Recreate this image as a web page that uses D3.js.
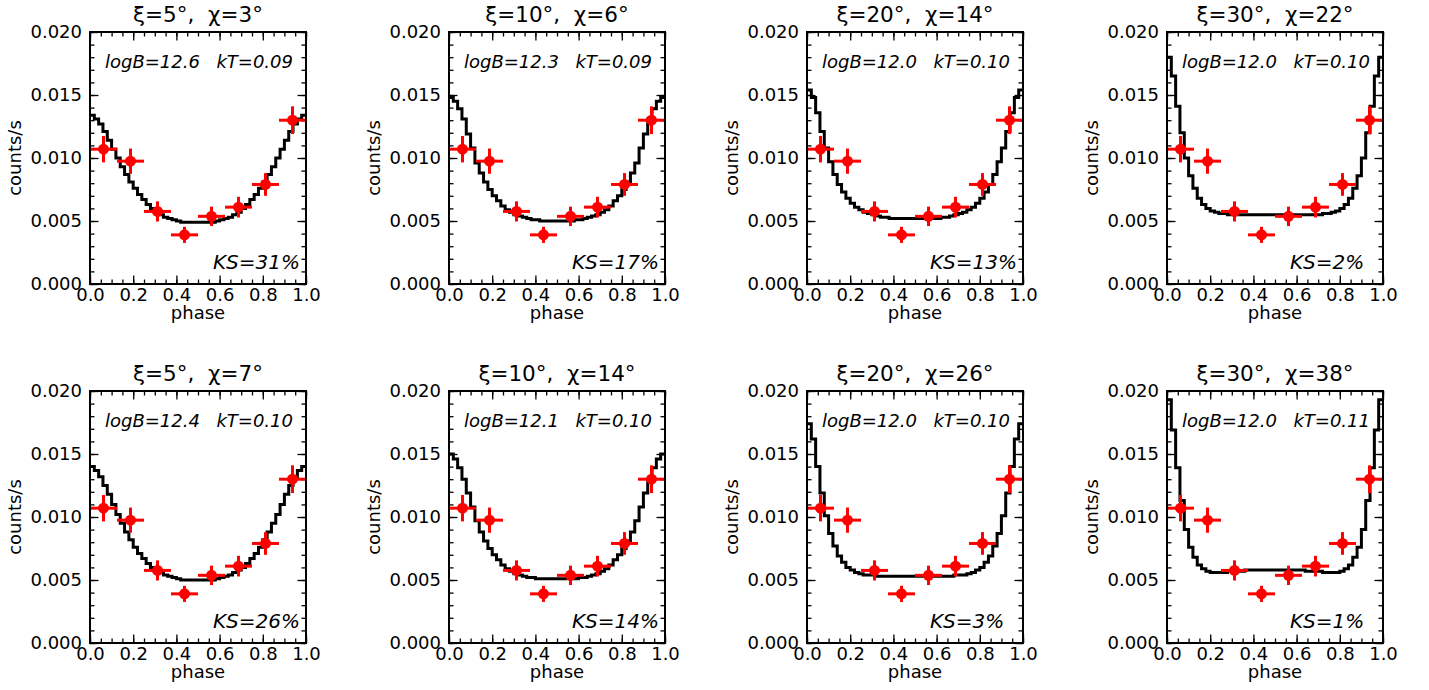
<!DOCTYPE html>
<html>
<head>
<meta charset="utf-8">
<script src="https://cdn.jsdelivr.net/npm/d3@7"></script>
<style>
  body { margin: 0; background: #fff; }
  text { white-space: pre; }
</style>
</head>
<body>
<script>
// panel labels
var titles = ["ξ=5°,  χ=3°", "ξ=10°,  χ=6°", "ξ=20°,  χ=14°", "ξ=30°,  χ=22°",
              "ξ=5°,  χ=7°", "ξ=10°,  χ=14°", "ξ=20°,  χ=26°", "ξ=30°,  χ=38°"];
var logB = ["12.6", "12.3", "12.0", "12.0", "12.4", "12.1", "12.0", "12.0"];
var kT = ["0.09", "0.09", "0.10", "0.10", "0.10", "0.10", "0.10", "0.11"];
var ks = ["31%", "17%", "13%", "2%", "26%", "14%", "3%", "1%"];

// observed light curve (same in every panel)
var obsPhase = [0.0625, 0.1875, 0.3125, 0.4375, 0.5625, 0.6875, 0.8125, 0.9375];
var obsRate = [0.0107, 0.00975, 0.00576, 0.0039, 0.00537, 0.0061, 0.0079, 0.0130];
var obsErr = [0.00105, 0.001, 0.0008, 0.00064, 0.00077, 0.00082, 0.0009, 0.0011];
var obsHalfWidth = 0.0625;

// model curves, 50 phase bins each
var model1 = [0.0134,0.0131,0.0127,0.0121,0.0114,0.0107,0.0100,0.0093,0.0087,0.0081,0.0076,0.0071,0.0067,0.0063,0.0060,0.0057,0.0055,0.0053,0.0052,0.0051,0.0050,0.0049,0.0049,0.0049,0.0049,
              0.0049,0.0049,0.0049,0.0049,0.0050,0.0051,0.0052,0.0053,0.0055,0.0057,0.0060,0.0063,0.0067,0.0071,0.0076,0.0081,0.0087,0.0093,0.0100,0.0107,0.0114,0.0121,0.0127,0.0131,0.0134];
var model2 = [0.0148,0.0145,0.0139,0.0131,0.0119,0.0108,0.0096,0.0088,0.0081,0.0075,0.0070,0.0066,0.0062,0.0059,0.0057,0.0055,0.0054,0.0053,0.0052,0.0051,0.0051,0.0050,0.0050,0.0050,0.0050,
              0.0050,0.0050,0.0050,0.0050,0.0051,0.0051,0.0052,0.0053,0.0054,0.0055,0.0057,0.0059,0.0062,0.0066,0.0070,0.0075,0.0081,0.0088,0.0096,0.0108,0.0119,0.0131,0.0139,0.0145,0.0148];
var model3 = [0.0154,0.0148,0.0136,0.0121,0.0108,0.0097,0.0087,0.0079,0.0073,0.0068,0.0064,0.0061,0.0059,0.0057,0.0056,0.0055,0.0054,0.0053,0.0053,0.0052,0.0052,0.0052,0.0052,0.0052,0.0052,
              0.0052,0.0052,0.0052,0.0052,0.0052,0.0052,0.0053,0.0053,0.0054,0.0055,0.0056,0.0057,0.0059,0.0061,0.0064,0.0068,0.0073,0.0079,0.0087,0.0097,0.0108,0.0121,0.0136,0.0148,0.0154];
var model4 = [0.0180,0.0165,0.0141,0.0120,0.0100,0.0086,0.0076,0.0068,0.0063,0.0060,0.0058,0.0057,0.0056,0.0056,0.0055,0.0055,0.0055,0.0055,0.0055,0.0055,0.0055,0.0055,0.0055,0.0055,0.0055,
              0.0055,0.0055,0.0055,0.0055,0.0055,0.0055,0.0055,0.0055,0.0055,0.0055,0.0055,0.0056,0.0056,0.0057,0.0058,0.0060,0.0063,0.0068,0.0076,0.0086,0.0100,0.0120,0.0141,0.0165,0.0180];
var model5 = [0.0140,0.0137,0.0132,0.0125,0.0118,0.0110,0.0102,0.0095,0.0088,0.0082,0.0076,0.0071,0.0067,0.0063,0.0060,0.0058,0.0056,0.0054,0.0053,0.0052,0.0051,0.0050,0.0050,0.0050,0.0050,
              0.0050,0.0050,0.0050,0.0050,0.0051,0.0052,0.0053,0.0054,0.0056,0.0058,0.0060,0.0063,0.0067,0.0071,0.0076,0.0082,0.0088,0.0095,0.0102,0.0110,0.0118,0.0125,0.0132,0.0137,0.0140];
var model6 = [0.0150,0.0146,0.0139,0.0130,0.0119,0.0108,0.0097,0.0088,0.0081,0.0075,0.0070,0.0066,0.0062,0.0059,0.0057,0.0055,0.0054,0.0053,0.0052,0.0052,0.0051,0.0051,0.0051,0.0051,0.0051,
              0.0051,0.0051,0.0051,0.0051,0.0051,0.0052,0.0052,0.0053,0.0054,0.0055,0.0057,0.0059,0.0062,0.0066,0.0070,0.0075,0.0081,0.0088,0.0097,0.0108,0.0119,0.0130,0.0139,0.0146,0.0150];
var model7 = [0.0174,0.0162,0.0140,0.0119,0.0101,0.0087,0.0077,0.0069,0.0064,0.0060,0.0058,0.0056,0.0055,0.0054,0.0054,0.0054,0.0053,0.0053,0.0053,0.0053,0.0053,0.0053,0.0053,0.0053,0.0053,
              0.0053,0.0053,0.0053,0.0053,0.0053,0.0053,0.0053,0.0053,0.0053,0.0054,0.0054,0.0054,0.0055,0.0056,0.0058,0.0060,0.0064,0.0069,0.0077,0.0087,0.0101,0.0119,0.0140,0.0162,0.0174];
var model8 = [0.0193,0.0169,0.0139,0.0113,0.0090,0.0076,0.0068,0.0062,0.0059,0.0057,0.0056,0.0056,0.0056,0.0056,0.0057,0.0057,0.0057,0.0057,0.0058,0.0058,0.0058,0.0058,0.0058,0.0058,0.0058,
              0.0058,0.0058,0.0058,0.0058,0.0058,0.0058,0.0058,0.0057,0.0057,0.0057,0.0057,0.0056,0.0056,0.0056,0.0056,0.0057,0.0059,0.0062,0.0068,0.0076,0.0090,0.0113,0.0139,0.0169,0.0193];
var models = [model1, model2, model3, model4, model5, model6, model7, model8];

var xMajor = [0, 0.2, 0.4, 0.6, 0.8, 1.0];
var xMinor = d3.range(0, 1.0001, 0.05);
var yMajor = [0, 0.005, 0.010, 0.015, 0.020];
var yMinor = d3.range(0, 0.02001, 0.001);

// layout
var W = 1429, H = 690;
var pw = 216, ph = 252;
var lefts = [90, 449, 807, 1167];
var tops = [32, 391];
var FONT = "DejaVu Sans";

var svg = d3.select("body").append("svg")
    .attr("width", W)
    .attr("height", H)
    .attr("font-family", FONT);

var x = d3.scaleLinear().domain([0, 1]).range([0, pw]);
var y = d3.scaleLinear().domain([0, 0.02]).range([ph, 0]);

var line = d3.line()
    .x(function(d) { return x(d[0]); })
    .y(function(d) { return y(d[1]); })
    .curve(d3.curveStepAfter);

models.forEach(function(m, k) {
    var col = k % 4, row = Math.floor(k / 4);
    var g = svg.append("g")
        .attr("transform", "translate(" + lefts[col] + "," + tops[row] + ")");

    // ticks, all inward
    function ticks(axis, vals, size, labels, fmt, transform) {
        var a = axis.tickValues(vals).tickSize(-size).tickSizeOuter(0);
        if (labels) a.tickFormat(d3.format(fmt)).tickPadding(labels);
        else a.tickFormat("");
        var ag = g.append("g").attr("transform", transform || null).call(a);
        ag.attr("font-family", FONT).attr("font-size", 18);
        ag.select(".domain").remove();
        ag.selectAll("line").attr("stroke", "#000").attr("stroke-width", 1.3);
        ag.selectAll("text").attr("fill", "#000");
        return ag;
    }
    ticks(d3.axisBottom(x), xMinor, 4.5, 0, "", "translate(0," + ph + ")");
    ticks(d3.axisBottom(x), xMajor, 8.5, 4, ".1f", "translate(0," + ph + ")");
    ticks(d3.axisTop(x), xMinor, 4.5, 0, "");
    ticks(d3.axisTop(x), xMajor, 8.5, 0, "");
    ticks(d3.axisLeft(y), yMinor, 4.5, 0, "");
    ticks(d3.axisLeft(y), yMajor, 8.5, 8, ".3f");
    ticks(d3.axisRight(y), yMinor, 4.5, 0, "", "translate(" + pw + ",0)");
    ticks(d3.axisRight(y), yMajor, 8.5, 0, "", "translate(" + pw + ",0)");

    // model step curve
    var pts = m.map(function(v, i) { return [i / m.length, v]; });
    pts.push([1, m[m.length - 1]]);
    g.append("path")
        .datum(pts)
        .attr("d", line)
        .attr("fill", "none")
        .attr("stroke", "#000")
        .attr("stroke-width", 3);

    // observed points with error bars
    var obs = g.append("g");
    obsPhase.forEach(function(p, i) {
        obs.append("line")
            .attr("x1", x(p - obsHalfWidth)).attr("x2", x(p + obsHalfWidth))
            .attr("y1", y(obsRate[i])).attr("y2", y(obsRate[i]))
            .attr("stroke", "#ff0000").attr("stroke-width", 3);
        obs.append("line")
            .attr("x1", x(p)).attr("x2", x(p))
            .attr("y1", y(obsRate[i] - obsErr[i])).attr("y2", y(obsRate[i] + obsErr[i]))
            .attr("stroke", "#ff0000").attr("stroke-width", 3);
        obs.append("circle")
            .attr("cx", x(p)).attr("cy", y(obsRate[i]))
            .attr("r", 5.5)
            .attr("fill", "#ff0000");
    });

    // frame
    g.append("rect")
        .attr("width", pw).attr("height", ph)
        .attr("fill", "none")
        .attr("stroke", "#000")
        .attr("stroke-width", 2);

    // texts
    g.append("text")
        .attr("x", pw / 2).attr("y", -10)
        .attr("text-anchor", "middle")
        .attr("font-family", FONT).attr("font-size", 21.5)
        .text(titles[k]);

    g.append("text")
        .attr("x", 15).attr("y", 36)
        .attr("font-family", FONT).attr("font-size", 18).attr("font-style", "italic")
        .text("logB=" + logB[k]);

    g.append("text")
        .attr("x", pw - 13).attr("y", 36)
        .attr("text-anchor", "end")
        .attr("font-family", FONT).attr("font-size", 18).attr("font-style", "italic")
        .text("kT=" + kT[k]);

    g.append("text")
        .attr("x", 123).attr("y", ph - 15)
        .attr("font-family", FONT).attr("font-size", 20).attr("font-style", "italic")
        .text("KS=" + ks[k]);

    g.append("text")
        .attr("x", pw / 2).attr("y", ph + 35)
        .attr("text-anchor", "middle")
        .attr("font-family", FONT).attr("font-size", 18)
        .text("phase");

    g.append("text")
        .attr("transform", "translate(-69," + (ph / 2) + ") rotate(-90)")
        .attr("text-anchor", "middle")
        .attr("font-family", FONT).attr("font-size", 18)
        .text("counts/s");
});
</script>
</body>
</html>
